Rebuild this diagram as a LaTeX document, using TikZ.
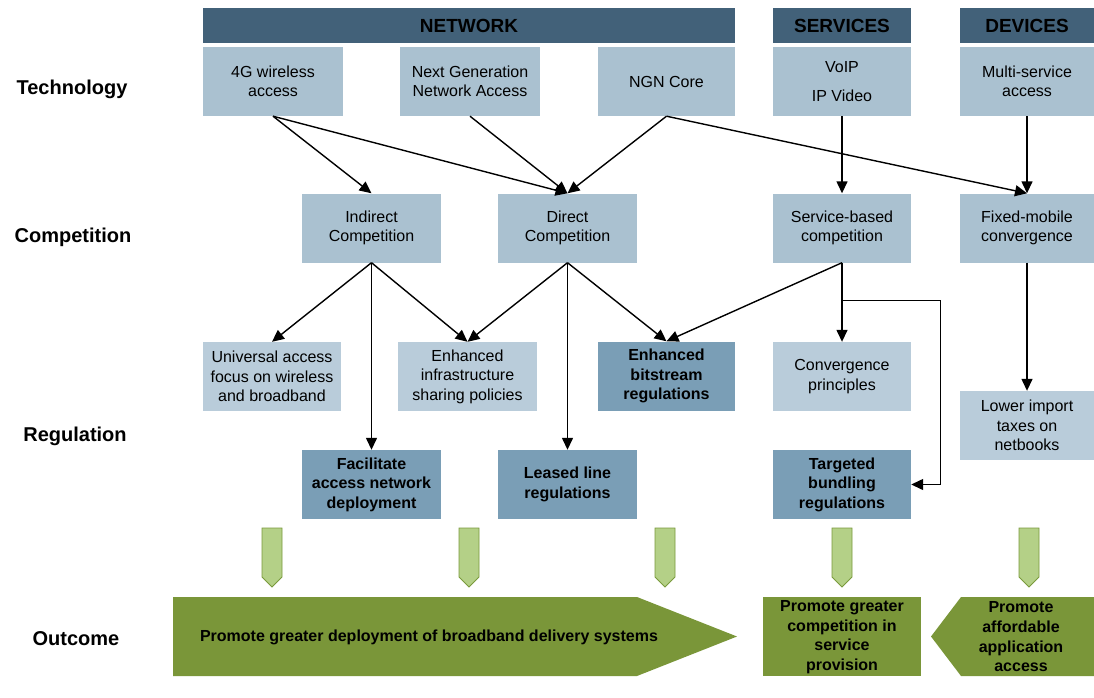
\documentclass[tikz,border=0pt]{standalone}
\usepackage{fontspec}
\setmainfont{Liberation Sans}
\usetikzlibrary{arrows.meta}
\definecolor{hdr}{RGB}{66,97,121}
\definecolor{boxA}{RGB}{170,193,208}
\definecolor{boxB}{RGB}{185,204,218}
\definecolor{boxC}{RGB}{122,158,182}
\definecolor{olive}{RGB}{122,150,57}
\definecolor{chev}{RGB}{180,208,135}
\definecolor{chevline}{RGB}{122,154,60}
\begin{document}
\begin{tikzpicture}[x=1pt,y=-1pt,
  base/.style={minimum width=139pt, minimum height=69pt, inner sep=2pt, align=center,
               font=\fontsize{16}{19.5}\selectfont},
  tech/.style={base, fill=boxA},
  reg/.style={base, fill=boxB},
  key/.style={base, fill=boxC, font=\bfseries\fontsize{16}{19.5}\selectfont},
  hdrbox/.style={fill=hdr, minimum height=35pt, inner sep=0pt,
                 font=\bfseries\fontsize{19}{22}\selectfont},
  rowlab/.style={font=\bfseries\fontsize{20}{24}\selectfont},
  outtxt/.style={align=center, font=\bfseries\fontsize{16}{19.7}\selectfont},
  arr/.style={-{Triangle[length=12pt,width=11pt]}, line width=1.4pt},
  chevron/.style={fill=chev, draw=chevline, line width=0.8pt}]
\useasboundingbox (0,0) rectangle (1094,698);

% column headers
\node[hdrbox, minimum width=532pt] (hnet) at (469,25.5) {NETWORK};
\node[hdrbox, minimum width=138pt] (hsrv) at (842,25.5) {SERVICES};
\node[hdrbox, minimum width=134pt] (hdev) at (1027,25.5) {DEVICES};

% row labels
\node[rowlab] (lt) at (72,89.5) {Technology};
\node[rowlab] (lc) at (73,237.5) {Competition};
\node[rowlab] (lr) at (75,436.5) {Regulation};
\node[rowlab] (lo) at (76,638.5) {Outcome};

% technology
\node[tech, minimum width=140pt] (g4) at (273,81.5) {4G wireless\\access};
\node[tech, minimum width=140pt] (nga) at (470,81.5) {Next Generation\\Network Access};
\node[tech, minimum width=137pt] (core) at (666.5,81.5) {NGN Core};
\node[tech, minimum width=138pt] (voip) at (842,81.5) {VoIP\\[9.5pt]IP Video};
\node[tech, minimum width=134pt] (msa) at (1027,81.5) {Multi-service\\access};

% competition
\node[tech] (ind) at (371.5,228) {Indirect\\Competition};
\node[tech] (dir) at (567.5,228) {Direct\\Competition};
\node[tech, minimum width=138pt] (svc) at (842,228) {Service-based\\competition};
\node[tech, minimum width=134pt] (fmc) at (1027,228) {Fixed-mobile\\convergence};

% regulation
\node[reg, minimum width=138pt] (ua) at (272,376.5) {Universal access\\focus on wireless\\and broadband};
\node[reg] (eis) at (467.5,376.5) {Enhanced\\infrastructure\\sharing policies};
\node[key, minimum width=137pt] (ebr) at (666.5,376) {Enhanced\\bitstream\\regulations};
\node[reg, minimum width=138pt] (cp) at (842,376.5) {Convergence\\principles};
\node[reg, minimum width=134pt] (lit) at (1027,425.5) {Lower import\\taxes on\\netbooks};
\node[key] (fac) at (371.5,484.5) {Facilitate\\access network\\deployment};
\node[key] (llr) at (567.5,484.5) {Leased line\\regulations};
\node[key, minimum width=138pt] (tbr) at (842,484.5) {Targeted\\bundling\\regulations};

% technology -> competition
\draw[arr] (g4.south) -- (ind.north);
\draw[arr] (g4.south) -- (dir.north);
\draw[arr] (nga.south) -- (dir.north);
\draw[arr] (core.south) -- (dir.north);
\draw[arr] (core.south) -- (fmc.north);
\draw[arr] (voip.south) -- (svc.north);
\draw[arr] (msa.south) -- (fmc.north);

% competition -> regulation
\draw[arr] (ind.south) -- (ua.north);
\draw[arr] (ind.south) -- (eis.north);
\draw[arr] (ind.south) -- (fac.north);
\draw[arr] (dir.south) -- (eis.north);
\draw[arr] (dir.south) -- (llr.north);
\draw[arr] (dir.south) -- (ebr.north);
\draw[arr] (svc.south) -- (ebr.north);
\draw[arr] (svc.south) -- (cp.north);
\coordinate (jn) at (842,300.5);
\coordinate (rt) at (940.5,300.5);
\draw[arr] (jn) -- (rt) |- (tbr.east);
\draw[arr] (fmc.south) -- (lit.north);

% outcome chevrons
\foreach \cx in {272,469,665,842,1029}
  \draw[chevron] (\cx-10,528) -- (\cx+10,528) -- (\cx+10,577) -- (\cx,587)
                 -- (\cx-10,577) -- cycle;

% outcome banners
\fill[olive] (173,597) -- (637,597) -- (737,636.5) -- (637,676) -- (173,676) -- cycle;
\node[outtxt] (o1) at (429,637.5) {Promote greater deployment of broadband delivery systems};
\fill[olive] (763,597) rectangle (921,676);
\node[outtxt] (o2) at (842,637) {Promote greater\\competition in\\service\\provision};
\fill[olive] (931,636.5) -- (961,597) -- (1094,597) -- (1094,676) -- (961,676) -- cycle;
\node[outtxt] (o3) at (1021,637) {Promote\\affordable\\application\\access};
\end{tikzpicture}
\end{document}
